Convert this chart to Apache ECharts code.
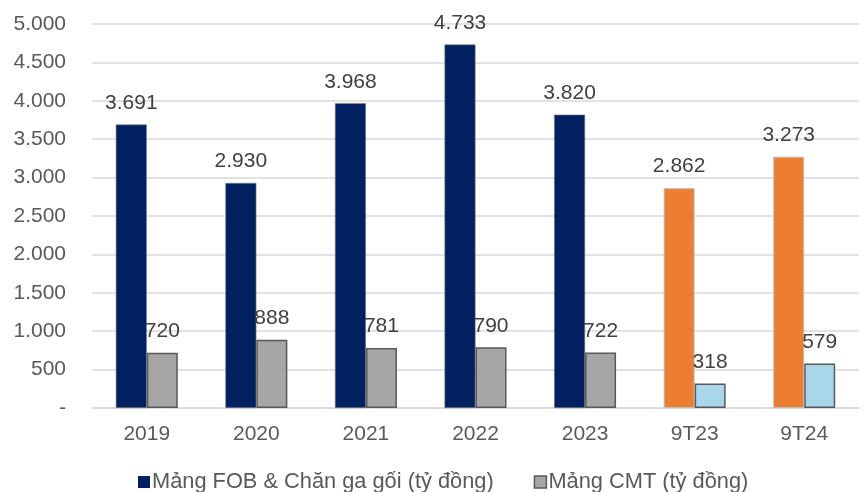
<!DOCTYPE html>
<html>
<head>
<meta charset="utf-8">
<script src="https://cdn.jsdelivr.net/npm/echarts@6/dist/echarts.min.js"></script>
<style>
html,body{margin:0;padding:0;background:#fff;}
#chart{width:867px;height:492px;}
</style>
</head>
<body>
<div id="chart"></div>
<script>
// Doanh thu theo mảng (tỷ đồng)
var categories = ['2019', '2020', '2021', '2022', '2023', '9T23', '9T24'];
var fobValues = [3691, 2930, 3968, 4733, 3820, 2862, 3273];
var cmtValues = [720, 888, 781, 790, 722, 318, 579];
var seriesNames = ['Mảng FOB & Chăn ga gối (tỷ đồng)', 'Mảng CMT (tỷ đồng)'];
// Kỳ 9 tháng được tô màu riêng
var highlightCats = ['9T23', '9T24'];

var FONT = '"Liberation Sans", Arial, sans-serif';
var TXT = '#595959';

function fmt(v) {
  if (v === 0) return '-';
  return String(v).replace(/\B(?=(\d{3})+(?!\d))/g, '.');
}

function buildData(values, normal, special) {
  return values.map(function (v, i) {
    var hl = highlightCats.indexOf(categories[i]) >= 0;
    return { value: v, itemStyle: hl ? special : normal };
  });
}

var fobNormal = { color: '#002060', borderColor: '#7f7f7f', borderWidth: 0.6 };
var fobSpecial = { color: '#ed7d31', borderColor: '#bfbfbf', borderWidth: 1 };
var cmtNormal = { color: '#a6a6a6', borderColor: '#595959', borderWidth: 1.5 };
var cmtSpecial = { color: '#a9d6e9', borderColor: '#595959', borderWidth: 1.5 };

var labelOpt = {
  show: true, position: 'top', distance: 11,
  fontFamily: FONT, fontSize: 21, color: '#404040',
  formatter: function (p) { return fmt(p.value); }
};

var chart = echarts.init(document.getElementById('chart'));
chart.setOption({
  animation: false,
  textStyle: { fontFamily: FONT },
  grid: { left: 92, right: 8, top: 24, bottom: 84 },
  legend: {
    left: 133,
    top: 466,
    itemWidth: 12,
    itemHeight: 12,
    itemGap: 40,
    icon: 'rect',
    textStyle: { fontFamily: FONT, fontSize: 21.8, color: TXT, padding: [0, 0, 0, -3] },
    data: [
      { name: seriesNames[0], itemStyle: { color: '#002060', borderWidth: 0 } },
      { name: seriesNames[1], itemStyle: { color: '#a6a6a6', borderColor: '#595959', borderWidth: 1.5 } }
    ]
  },
  xAxis: {
    type: 'category',
    data: categories,
    axisLine: { lineStyle: { color: '#d9d9d9', width: 1.5 } },
    axisTick: { show: false },
    axisLabel: { fontFamily: FONT, fontSize: 21, color: TXT, margin: 16 }
  },
  yAxis: {
    type: 'value',
    min: 0,
    max: 5000,
    interval: 500,
    axisLine: { show: false },
    axisTick: { show: false },
    splitLine: { lineStyle: { color: '#d9d9d9', width: 1.5 } },
    axisLabel: { fontFamily: FONT, fontSize: 21, color: TXT, margin: 26, formatter: fmt }
  },
  series: [
    {
      name: seriesNames[0],
      type: 'bar',
      barWidth: 31,
      barGap: '0%',
      data: buildData(fobValues, fobNormal, fobSpecial),
      label: labelOpt
    },
    {
      name: seriesNames[1],
      type: 'bar',
      barWidth: 31,
      data: buildData(cmtValues, cmtNormal, cmtSpecial),
      label: labelOpt
    }
  ]
});
</script>
</body>
</html>
